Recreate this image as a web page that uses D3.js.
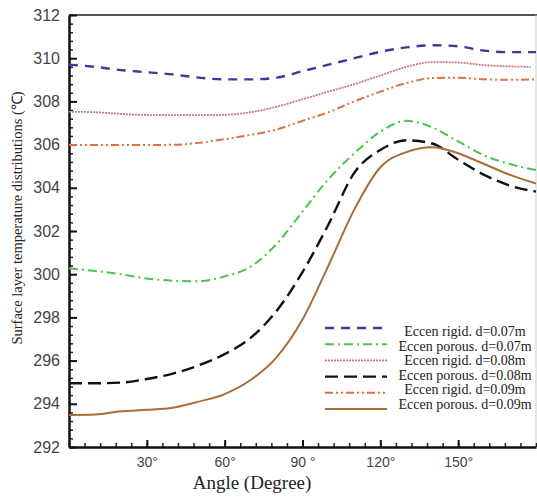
<!DOCTYPE html>
<html>
<head>
<meta charset="utf-8">
<script src="https://cdn.jsdelivr.net/npm/d3@7"></script>
<style>
	body { margin: 0; background: #fff; }
	.tick-label { font-family: 'Liberation Sans Narrow', 'Liberation Sans', Arial, sans-serif; fill: #444; }
	.serif { font-family: 'Liberation Serif', 'Times New Roman', serif; fill: #222; }
</style>
</head>
<body>
<div id="chart"></div>
<script>
// angles (degree) shared by every series
const angles = [0, 10, 20, 30, 40, 50, 60, 70, 80, 90, 100, 110, 120, 130, 140, 150, 160, 170, 180];

// surface layer temperatures
const rigid007 = [309.7, 309.6, 309.45, 309.35, 309.25, 309.1, 309.02, 309.02, 309.1, 309.4, 309.7, 310.0, 310.3, 310.5, 310.6, 310.55, 310.35, 310.28, 310.28];
const porous007 = [300.27, 300.15, 300.0, 299.8, 299.7, 299.67, 299.9, 300.35, 301.4, 302.9, 304.4, 305.6, 306.6, 307.1, 306.8, 306.15, 305.5, 305.1, 304.82];
const rigid008 = [307.52, 307.5, 307.42, 307.37, 307.36, 307.36, 307.38, 307.5, 307.75, 308.1, 308.45, 308.8, 309.2, 309.6, 309.82, 309.8, 309.68, 309.62, 309.6];
const porous008 = [294.95, 294.95, 294.98, 295.15, 295.4, 295.78, 296.3, 297.05, 298.3, 300.1, 302.3, 304.7, 305.75, 306.2, 306.05, 305.3, 304.6, 304.1, 303.82];
const rigid009 = [305.98, 305.98, 305.98, 305.98, 305.99, 306.08, 306.25, 306.45, 306.7, 307.1, 307.5, 308.0, 308.45, 308.85, 309.08, 309.1, 309.02, 309.0, 309.02];
const porous009 = [293.48, 293.5, 293.65, 293.72, 293.82, 294.1, 294.45, 295.1, 296.15, 297.9, 300.4, 303.0, 304.95, 305.65, 305.88, 305.6, 305.1, 304.6, 304.2];

const seriesNames = ['Eccen rigid. d=0.07m', 'Eccen porous. d=0.07m', 'Eccen rigid. d=0.08m', 'Eccen porous. d=0.08m', 'Eccen rigid. d=0.09m', 'Eccen porous. d=0.09m'];
const seriesValues = [rigid007, porous007, rigid008, porous008, rigid009, porous009];

const xTicks = [30, 60, 90, 120, 150];
const xTickLabels = ['30°', '60°', '90 °', '120°', '150°'];
const yTicks = [292, 294, 296, 298, 300, 302, 304, 306, 308, 310, 312];

// line looks per series
const colors = ['#3a3a98', '#4cc44c', '#c47c7a', '#111111', '#e07040', '#a86d38'];
const dashes = ['9,7', '9,4,2,4', '2,1', '13,6', '8,3,2,3,2,3', null];
const widths = [2.4, 2, 1.8, 2.4, 2, 2];

const W = 537, H = 504;
const plotLeft = 69, plotRight = 536, plotTop = 15, plotBottom = 447;

const svg = d3.select('#chart')
	.append('svg')
	.attr('width', W)
	.attr('height', H);

const x = d3.scaleLinear().domain([0, 180]).range([plotLeft, plotRight]);
const y = d3.scaleLinear().domain([292, 312]).range([plotBottom, plotTop]);

// frame: top and right borders
svg.append('line')
	.attr('x1', plotLeft).attr('x2', W).attr('y1', plotTop).attr('y2', plotTop)
	.attr('stroke', '#555').attr('stroke-width', 2);
svg.append('line')
	.attr('x1', plotRight).attr('x2', plotRight).attr('y1', plotTop).attr('y2', plotBottom)
	.attr('stroke', '#ccc').attr('stroke-width', 1);

// minor ticks
svg.append('g')
	.attr('transform', `translate(${plotLeft},0)`)
	.call(d3.axisLeft(y).tickValues(d3.range(292, 312.01, 0.4)).tickSize(-4).tickFormat(''))
	.call((g) => g.select('.domain').remove())
	.selectAll('line').attr('stroke', '#222').attr('stroke-width', 1.5);
svg.append('g')
	.attr('transform', `translate(0,${plotBottom})`)
	.call(d3.axisBottom(x).tickValues(d3.range(0, 181, 6)).tickSize(-4).tickFormat(''))
	.call((g) => g.select('.domain').remove())
	.selectAll('line').attr('stroke', '#222').attr('stroke-width', 1.5);

// major axes
const yAxis = svg.append('g')
	.attr('transform', `translate(${plotLeft},0)`)
	.call(d3.axisLeft(y).tickValues(yTicks).tickSizeInner(-8).tickSizeOuter(0).tickPadding(9).tickFormat(d3.format('d')));
yAxis.select('.domain').attr('stroke', '#111').attr('stroke-width', 2.5);
yAxis.selectAll('.tick line').attr('stroke', '#111').attr('stroke-width', 2);
yAxis.selectAll('.tick text').attr('class', 'tick-label').attr('font-size', 16).attr('fill', '#444');

const xAxis = svg.append('g')
	.attr('transform', `translate(0,${plotBottom})`)
	.call(d3.axisBottom(x).tickValues(xTicks).tickSizeInner(-7).tickSizeOuter(0).tickPadding(10)
		.tickFormat((d, i) => xTickLabels[i]));
xAxis.select('.domain').attr('stroke', '#111').attr('stroke-width', 2.5);
xAxis.selectAll('.tick line').attr('stroke', '#111').attr('stroke-width', 2);
xAxis.selectAll('.tick text').attr('class', 'tick-label').attr('font-size', 14).attr('fill', '#444');

// curves
const line = d3.line()
	.x((d) => x(d[0]))
	.y((d) => y(d[1]))
	.curve(d3.curveMonotoneX);

seriesValues.forEach((vals, i) => {
	// dotted rigid 0.08 stops a little short of the right edge
	let pts = angles.map((a, j) => [a, vals[j]]);
	if (i === 2) pts[pts.length - 1][0] = 178;
	svg.append('path')
		.datum(pts)
		.attr('d', line)
		.attr('fill', 'none')
		.attr('stroke', colors[i])
		.attr('stroke-width', widths[i])
		.attr('stroke-dasharray', dashes[i]);
});

// legend
const legend = svg.append('g');
seriesNames.forEach((name, i) => {
	const ly = 328 + i * 16.2;
	legend.append('line')
		.attr('x1', 325).attr('x2', 387).attr('y1', ly).attr('y2', ly)
		.attr('stroke', colors[i])
		.attr('stroke-width', widths[i])
		.attr('stroke-dasharray', dashes[i]);
	legend.append('text')
		.attr('class', 'serif')
		.attr('x', 465)
		.attr('y', 331 + i * 14.6)
		.attr('dy', '0.35em')
		.attr('text-anchor', 'middle')
		.attr('font-size', 14)
		.text(name);
});

// axis titles
svg.append('text')
	.attr('class', 'serif')
	.attr('transform', 'translate(17,218) rotate(-90)')
	.attr('text-anchor', 'middle')
	.attr('dy', '0.35em')
	.attr('font-size', 14.5)
	.attr('fill', '#333')
	.text('Surface layer temperature distributions (℃)');

svg.append('text')
	.attr('class', 'serif')
	.attr('x', 252)
	.attr('y', 489)
	.attr('text-anchor', 'middle')
	.attr('font-size', 19)
	.text('Angle (Degree)');
</script>
</body>
</html>
